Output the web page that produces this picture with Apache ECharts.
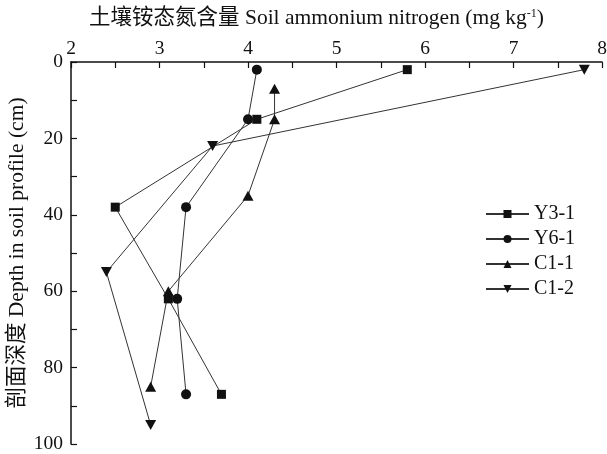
<!DOCTYPE html>
<html>
<head>
<meta charset="utf-8">
<script src="https://cdn.jsdelivr.net/npm/echarts@6/dist/echarts.min.js"></script>
<style>
  html, body { margin: 0; padding: 0; background: #fff; }
  #chart { width: 607px; height: 454px; }
</style>
</head>
<body>
<div id="chart"></div>
<script>
// Soil ammonium nitrogen (mg/kg) against depth (cm) for four profiles
const seriesNames = ['Y3-1', 'Y6-1', 'C1-1', 'C1-2'];
const y31 = [[5.8, 2], [4.1, 15], [2.5, 38], [3.1, 62], [3.7, 87]];
const y61 = [[4.1, 2], [4.0, 15], [3.3, 38], [3.2, 62], [3.3, 87]];
const c11 = [[4.3, 7], [4.3, 15], [4.0, 35], [3.1, 60], [2.9, 85]];
const c12 = [[7.8, 2], [3.6, 22], [2.4, 55], [2.9, 95]];
const symbols = ['rect', 'circle', 'triangle', 'path://M0,0 L10,0 L5,8.66 Z'];
const symbolSizes = [9, 10, [11, 10], [11, 10]];

const FONT = "'Liberation Serif', 'Noto Sans CJK SC', serif";
const chart = echarts.init(document.getElementById('chart'));

const allData = [y31, y61, c11, c12];
const series = allData.map((d, i) => ({
  name: seriesNames[i],
  type: 'line',
  data: d,
  symbol: symbols[i],
  symbolSize: symbolSizes[i],
  showAllSymbol: true,
  lineStyle: { color: '#333', width: 1 },
  itemStyle: { color: '#111' },
  emphasis: { disabled: true },
  animation: false
}));

chart.setOption({
  animation: false,
  textStyle: { fontFamily: FONT },
  grid: { left: 71, top: 62, right: 5, bottom: 10, outerBoundsMode: 'none', containLabel: false },
  legend: {
    orient: 'vertical',
    left: 485,
    top: 204,
    padding: 0,
    itemWidth: 43,
    itemHeight: 10,
    itemGap: 5,
    textStyle: { fontFamily: FONT, fontSize: 20, color: '#111' },
    data: seriesNames
  },
  xAxis: {
    type: 'value',
    position: 'top',
    min: 2, max: 8, interval: 1,
    name: '土壤铵态氮含量 Soil ammonium nitrogen (mg kg{sup|-1})',
    nameLocation: 'middle',
    nameGap: 33,
    nameTextStyle: {
      fontFamily: FONT, fontSize: 21.5, color: '#111',
      padding: [0, 40, 0, 0],
      rich: { sup: { fontFamily: FONT, fontSize: 12, color: '#111', verticalAlign: 'top', padding: [0, 0, 9, 0] } }
    },
    axisLine: { show: true, lineStyle: { color: '#111', width: 1.5 } },
    axisTick: { show: true, inside: true, length: 6, lineStyle: { color: '#111', width: 1.2 } },
    minorTick: { show: true, splitNumber: 2, length: 6, lineStyle: { color: '#111', width: 1.2 } },
    axisLabel: { fontFamily: FONT, fontSize: 19.5, color: '#111', margin: 3 },
    splitLine: { show: false }
  },
  yAxis: {
    type: 'value',
    inverse: true,
    min: 0, max: 100, interval: 20,
    name: '剖面深度 Depth in soil profile (cm)',
    nameLocation: 'middle',
    nameGap: 43,
    nameMoveOverlap: false,
    nameTextStyle: { fontFamily: FONT, fontSize: 21.5, color: '#111' },
    axisLine: { show: true, lineStyle: { color: '#111', width: 1.5 } },
    axisTick: { show: true, inside: true, length: 6, lineStyle: { color: '#111', width: 1.2 } },
    minorTick: { show: true, splitNumber: 2, length: 6, lineStyle: { color: '#111', width: 1.2 } },
    axisLabel: { fontFamily: FONT, fontSize: 19.5, color: '#111', margin: 8 },
    splitLine: { show: false }
  },
  series: series
});
</script>
</body>
</html>
